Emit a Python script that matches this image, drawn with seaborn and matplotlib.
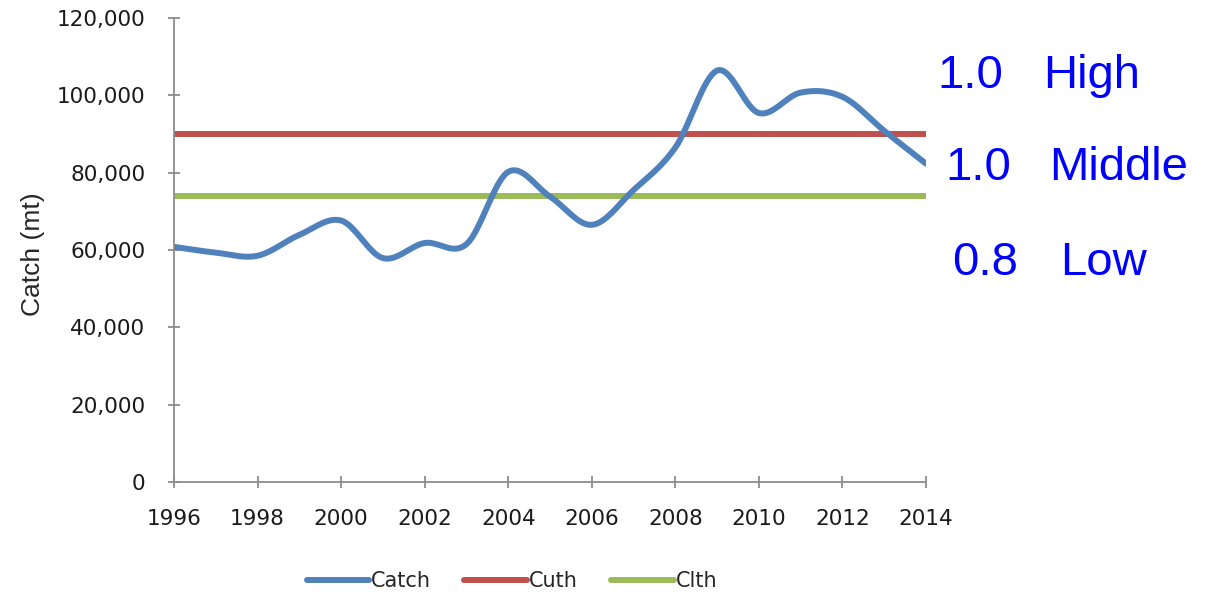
import matplotlib
matplotlib.use("Agg")
import matplotlib.pyplot as plt
import numpy as np
import pandas as pd
import seaborn as sns
from matplotlib.ticker import FuncFormatter

# Données
annees = [1996, 1997, 1998, 1999, 2000, 2001, 2002, 2003, 2004, 2005,
          2006, 2007, 2008, 2009, 2010, 2011, 2012, 2013, 2014]
capture = [60800, 59300, 58500, 63900, 67600, 57900, 61800, 61500, 80200, 73800,
           66500, 75500, 86500, 106400, 95400, 100700, 99600, 90800, 82300]
cuth = 90000
clth = 74000

etiquettes_droite = [("1.0", "High"), ("1.0", "Middle"), ("0.8", "Low")]

COULEURS = {"Catch": "#4F81BD", "Cuth": "#C0504D", "Clth": "#9BBB59"}


def lissage_catmull_rom(x, y, n=20):
    """Courbe lissée (style Excel) passant par les points."""
    x = np.asarray(x, float)
    y = np.asarray(y, float)
    px = np.concatenate([[2 * x[0] - x[1]], x, [2 * x[-1] - x[-2]]])
    py = np.concatenate([[2 * y[0] - y[1]], y, [2 * y[-1] - y[-2]]])
    xs, ys = [], []
    t = np.linspace(0, 1, n, endpoint=False)
    for i in range(1, len(px) - 2):
        for p, out in ((px, xs), (py, ys)):
            p0, p1, p2, p3 = p[i - 1], p[i], p[i + 1], p[i + 2]
            out.extend(0.5 * (2 * p1 + (-p0 + p2) * t
                              + (2 * p0 - 5 * p1 + 4 * p2 - p3) * t ** 2
                              + (-p0 + 3 * p1 - 3 * p2 + p3) * t ** 3))
    xs.append(x[-1])
    ys.append(y[-1])
    return np.array(xs), np.array(ys)


sns.set_theme(style="white")
plt.rcParams["font.family"] = ["DejaVu Sans"]

fig = plt.figure(figsize=(12.11, 5.94), dpi=100)
ax = fig.add_axes([0.1437, 0.1886, 0.621, 0.7812])

xs, ys = lissage_catmull_rom(annees, capture)
df_lisse = pd.DataFrame({"year": xs, "catch": ys})
df_seuils = pd.DataFrame({"year": [annees[0], annees[-1]],
                          "cuth": [cuth, cuth], "clth": [clth, clth]})

lw = 4.3
sns.lineplot(data=df_seuils, x="year", y="cuth", ax=ax, color=COULEURS["Cuth"],
             linewidth=lw, label="Cuth", sort=False)
sns.lineplot(data=df_seuils, x="year", y="clth", ax=ax, color=COULEURS["Clth"],
             linewidth=lw, label="Clth", sort=False)
sns.lineplot(data=df_lisse, x="year", y="catch", ax=ax, color=COULEURS["Catch"],
             linewidth=lw, label="Catch", sort=False)

ax.set_xlim(annees[0], annees[-1])
ax.set_ylim(0, 120000)
ax.set_xticks(range(1996, 2015, 2))
ax.set_yticks(range(0, 120001, 20000))
ax.yaxis.set_major_formatter(FuncFormatter(lambda v, p: f"{int(v):,}"))
ax.set_xlabel("")
ax.set_ylabel("Catch (mt)", fontsize=19, family="Liberation Sans")
ax.yaxis.set_label_coords(-0.1715, 0.49)

for cote in ["top", "right"]:
    ax.spines[cote].set_visible(False)
for cote in ["left", "bottom"]:
    ax.spines[cote].set_color("#8c8c8c")
    ax.spines[cote].set_linewidth(1.3)
ax.tick_params(axis="both", direction="inout", length=9, width=1.3,
               color="#8c8c8c", labelsize=15.5, left=True, bottom=True,
               labelcolor="#1a1a1a")
ax.tick_params(axis="x", pad=15)
ax.tick_params(axis="y", pad=16)

# Légende en bas
poignees, libelles = ax.get_legend_handles_labels()
ordre = [libelles.index(n) for n in ["Catch", "Cuth", "Clth"]]
ax.get_legend().remove()
fig.legend([poignees[i] for i in ordre], [libelles[i] for i in ordre],
           loc="center", bbox_to_anchor=(512 / 1211, 1 - 581 / 594), ncol=3,
           frameon=False, fontsize=15, handlelength=3.0, handletextpad=0.1,
           columnspacing=1.6)

# Annotations à droite
positions = [(937, 1043, 88), (945, 1049, 180), (952, 1060, 275)]
for (val, niveau), (x1, x2, yb) in zip(etiquettes_droite, positions):
    fig.text(x1 / 1211, 1 - yb / 594, val, color="#0000FF", fontsize=34,
             family="Liberation Sans", va="baseline")
    fig.text(x2 / 1211, 1 - yb / 594, niveau, color="#0000FF", fontsize=34,
             family="Liberation Sans", va="baseline")

fig.savefig("out.png", dpi=100, facecolor="white")
